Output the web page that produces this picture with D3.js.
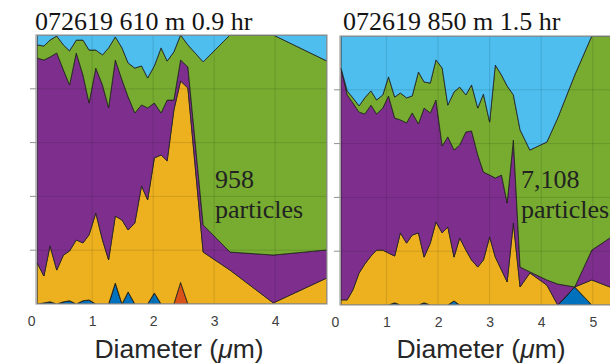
<!DOCTYPE html>
<html><head><meta charset="utf-8">
<script src="https://cdn.jsdelivr.net/npm/d3@7"></script>
<style>body{margin:0;background:#fff}svg{display:block}</style>
</head><body>
<svg id="c" width="610" height="364"></svg>
<script>
// ---------- DATA ----------
const layerKeys = ["blue","red","yellow","purple","green","lightblue"];
const layerColors = ["#0072BD","#D95319","#EDB120","#7E2F8E","#77AC30","#4DBEEE"];
const xTicksLeft = [0,1,2,3,4];
const xTicksRight = [0,1,2,3,4,5];
const titleLeft = "072619 610 m 0.9 hr";
const titleRight = "072619 850 m 1.5 hr";
const countLeft = "958";
const countRight = "7,108";

const leftDiam = [0.10,0.21,0.31,0.42,0.53,0.63,0.74,0.85,0.95,1.06,1.17,1.27,1.38,1.49,1.59,1.70,1.81,1.91,2.02,2.13,2.23,2.34,2.45,2.57,2.82,3.26,3.97,4.85];
const leftBlue = [0,.004,.008,0,.008,.012,0,.012,.015,0,0,0,.078,0,.045,0,0,0,.041,0,0,0,0,0,0,0,0,0];
const leftRed = [0,0,0,0,0,0,0,0,0,0,0,0,0,0,0,0,0,0,0,0,0,0,.08,0,0,0,0,0];
const leftYellow = [.152,.100,.208,.126,.174,.185,.238,.215,.242,.338,.238,.164,.249,.312,.230,.301,.439,.387,.502,.554,.532,.721,.749,.803,.193,.126,.004,.097];
const leftPurple = [.762,.803,.702,.807,.688,.617,.695,.624,.490,.539,.576,.565,.580,.521,.495,.409,.301,.342,.204,.156,.226,.037,.078,.078,.101,.067,.178,.104];
const leftGreen = [.049,.052,.063,.063,.093,.127,.048,.130,.197,.067,.112,.223,.086,.119,.126,.167,.145,.111,.138,.242,.145,.179,.093,.082,.606,.807,.818,.702];
const leftLightBlue = [.037,.041,.019,.004,.037,.059,.019,.019,.056,.056,.074,.048,.007,.048,.104,.123,.115,.160,.115,.048,.097,.063,0,.037,.100,0,0,.097];

const rightDiam = [0.12,0.24,0.35,0.47,0.58,0.70,0.81,0.93,1.04,1.16,1.27,1.39,1.50,1.62,1.73,1.85,1.96,2.08,2.19,2.31,2.42,2.54,2.65,2.77,2.88,3.00,3.11,3.23,3.34,3.46,3.59,3.78,4.11,4.32,4.65,4.98,5.33,5.74];
const rightBlue = [0,0,0,0,0,0,0,0,0,.008,0,0,0,0,.008,0,0,0,0,.015,0,0,0,0,0,0,0,0,0,0,0,0,0,0,.067,0,0,0];
const rightRed = [0,0,0,0,0,0,0,0,0,0,0,0,0,0,0,0,0,0,0,0,0,0,0,0,0,0,0,0,0,0,0,0,0,0,0,0,0,0];
const rightYellow = [.019,.019,.056,.119,.152,.182,.204,.204,.193,.174,.268,.230,.260,.268,.170,.230,.309,.268,.290,.163,.249,.204,.167,.141,.167,.253,.178,.130,.086,.305,.067,.119,.074,0,0,.093,.067,.048];
const rightPurple = [.862,.762,.695,.598,.558,.561,.506,.528,.584,.513,.420,.447,.454,.405,.554,.484,.453,.323,.335,.398,.346,.439,.480,.417,.327,.230,.294,.353,.293,.308,.074,.004,.019,.078,0,.111,.182,.238];
const rightGreen = [0,.015,.019,.023,.060,.053,.052,.049,.071,.078,.100,.093,.063,.193,.097,.111,.149,.290,.118,.216,.215,.138,.171,.174,.290,.197,.420,.372,.435,.168,.510,.453,.513,.617,.788,.796,.751,.714];
const rightLightBlue = [.119,.204,.230,.260,.230,.204,.238,.219,.152,.227,.212,.230,.223,.134,.171,.175,.089,.119,.257,.208,.190,.219,.182,.268,.216,.320,.108,.145,.186,.219,.349,.424,.394,.305,.145,0,0,0];
const yGridVals = [0.2,0.4,0.6,0.8];

// ---------- DRAW ----------
const svg = d3.select("#c");

function panel(opts){
  const {id, diam, series, xDomain, left, right, top, bottom, ticks, title, count, countX, labelX} = opts;
  const rows = diam.map((d,i)=>{
    const r = {d};
    layerKeys.forEach((k,j)=>{ r[k] = series[j][i]; });
    return r;
  });
  const x = d3.scaleLinear().domain(xDomain).range([left,right]);
  const y = d3.scaleLinear().domain([0,1]).range([bottom,top]);
  const stacked = d3.stack().keys(layerKeys)(rows);

  svg.append("clipPath").attr("id",id).append("rect")
    .attr("x",left).attr("y",top).attr("width",right-left).attr("height",bottom-top);

  const g = svg.append("g").attr("clip-path",`url(#${id})`);
  const area = d3.area().x(d=>x(d.data.d)).y0(d=>y(d[0])).y1(d=>y(d[1]));
  g.selectAll("path.layer").data(stacked).join("path")
    .attr("class","layer")
    .attr("d",area)
    .attr("fill",(d,i)=>layerColors[i])
    .attr("stroke","#1e1e1e").attr("stroke-width",0.8).attr("stroke-linejoin","round");

  // grid on top
  g.selectAll("line.vg").data(ticks.filter(t=>x(t)>left && x(t)<right)).join("line")
    .attr("x1",d=>x(d)).attr("x2",d=>x(d)).attr("y1",top).attr("y2",bottom)
    .attr("stroke","#000").attr("stroke-opacity",0.12).attr("stroke-width",1);
  g.selectAll("line.hg").data(yGridVals).join("line")
    .attr("x1",left).attr("x2",right).attr("y1",d=>y(d)).attr("y2",d=>y(d))
    .attr("stroke","#000").attr("stroke-opacity",0.12).attr("stroke-width",1);

  // box
  svg.append("rect").attr("x",left).attr("y",top).attr("width",right-left).attr("height",bottom-top)
    .attr("fill","none").attr("stroke","#a0a0a0").attr("stroke-width",1.2);
  // y ticks outward
  svg.append("g").selectAll("line").data(yGridVals).join("line")
    .attr("x1",left-6).attr("x2",left).attr("y1",d=>y(d)).attr("y2",d=>y(d))
    .attr("stroke","#909090").attr("stroke-width",1);

  // x axis labels
  const ax = d3.axisBottom(x).tickValues(ticks).tickSize(0).tickPadding(0).tickFormat(d3.format("d"));
  const axg = svg.append("g").attr("transform",`translate(0,${bottom+22})`).call(ax);
  axg.select(".domain").remove();
  axg.selectAll("text").attr("font-family","Liberation Sans, Arial, sans-serif")
    .attr("font-size",14).attr("fill","#404040").attr("dy",0);

  // xlabel
  const xl = svg.append("text").attr("x",labelX).attr("y",358).attr("text-anchor","middle")
    .attr("font-family","Liberation Sans, Arial, sans-serif").attr("font-size",26.5).attr("fill","#262626");
  xl.append("tspan").text("Diameter (");
  xl.append("tspan").attr("font-style","italic").text("\u03bc");
  xl.append("tspan").text("m)");

  // title
  svg.append("text").attr("x",opts.titleX).attr("y",30)
    .attr("font-family","Liberation Serif, Times New Roman, serif").attr("font-size",26).attr("fill","#141414")
    .text(title);

  // count annotation
  const t = svg.append("text").attr("font-family","Liberation Serif, Times New Roman, serif")
    .attr("font-size",26).attr("fill","#222");
  t.append("tspan").attr("x",countX).attr("y",188).text(count);
  t.append("tspan").attr("x",countX).attr("y",218).text("particles");
}

panel({id:"clipL", diam:leftDiam,
  series:[leftBlue,leftRed,leftYellow,leftPurple,leftGreen,leftLightBlue],
  xDomain:[0.08,4.85], left:36, right:327, top:35, bottom:304,
  ticks:xTicksLeft, title:titleLeft, titleX:35, count:countLeft, countX:215, labelX:179});

panel({id:"clipR", diam:rightDiam,
  series:[rightBlue,rightRed,rightYellow,rightPurple,rightGreen,rightLightBlue],
  xDomain:[0.1,5.74], left:340, right:631, top:36, bottom:305,
  ticks:xTicksRight, title:titleRight, titleX:343, count:countRight, countX:521, labelX:481});
</script>
</body></html>
